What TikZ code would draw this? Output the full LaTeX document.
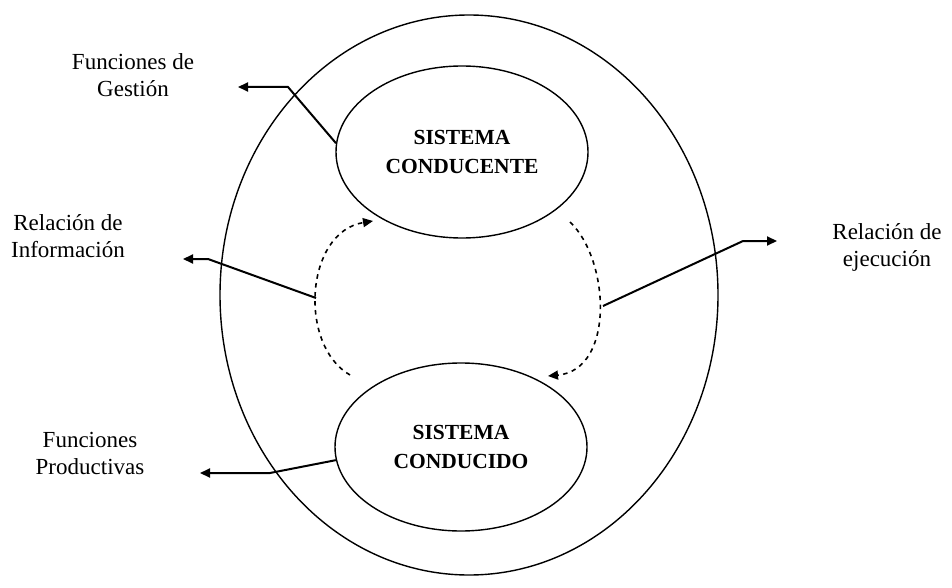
\documentclass[tikz,border=0pt]{standalone}
\usepackage{fontspec}
\setmainfont{Liberation Serif}
\usepackage{tikz}
\usetikzlibrary{shapes.geometric,arrows.meta}

\begin{document}
\begin{tikzpicture}[x=1pt,y=-1pt,
    subsis/.style={draw,ellipse,line width=1.4pt,minimum width=252pt,minimum height=172pt,inner sep=0pt,align=center,font=\fontsize{21.5}{29}\selectfont\bfseries},
    rotulo/.style={align=center,font=\fontsize{23}{27}\selectfont},
    flecha/.style={line width=2pt,-{Triangle[length=10pt,width=9pt]}},
    retro/.style={line width=1.6pt,dash pattern=on 4.5pt off 4.5pt,-{Triangle[length=10pt,width=9pt]}}]
          \useasboundingbox (0,0) rectangle (952,588);
          \node[draw,ellipse,line width=1.4pt,minimum width=498pt,minimum height=560pt] (empresa) at (469,295) {};
          \node[subsis] (conducente) at (462,152) {SISTEMA\\CONDUCENTE};
          \node[subsis,minimum height=168pt] (conducido) at (461,447) {SISTEMA\\CONDUCIDO};
          \node[rotulo] (gestion) at (133,75) {Funciones de\\Gestión};
          \node[rotulo] (informacion) at (68,236) {Relación de\\Información};
          \node[rotulo] (productivas) at (90,453) {Funciones\\Productivas};
          \node[rotulo] (ejecucion) at (887,247) {Relación de\\ejecución};
          \coordinate (izq) at (316,298);
          \coordinate (der) at (603,306);
          \draw[retro] (350,375) .. controls (298,345) and (305,232) .. (373,221);
          \draw[retro] (570,222) .. controls (610,260) and (615,370) .. (548,376);
          \draw[flecha] (conducente.176) -- (288,87) -- (238,87);
          \draw[flecha] (izq) -- (208,259) -- (183,259);
          \draw[flecha] (der) -- (743,241) -- (777,241);
          \draw[flecha] (conducido.186) -- (270,473) -- (200,473);
    \end{tikzpicture}
\end{document}
